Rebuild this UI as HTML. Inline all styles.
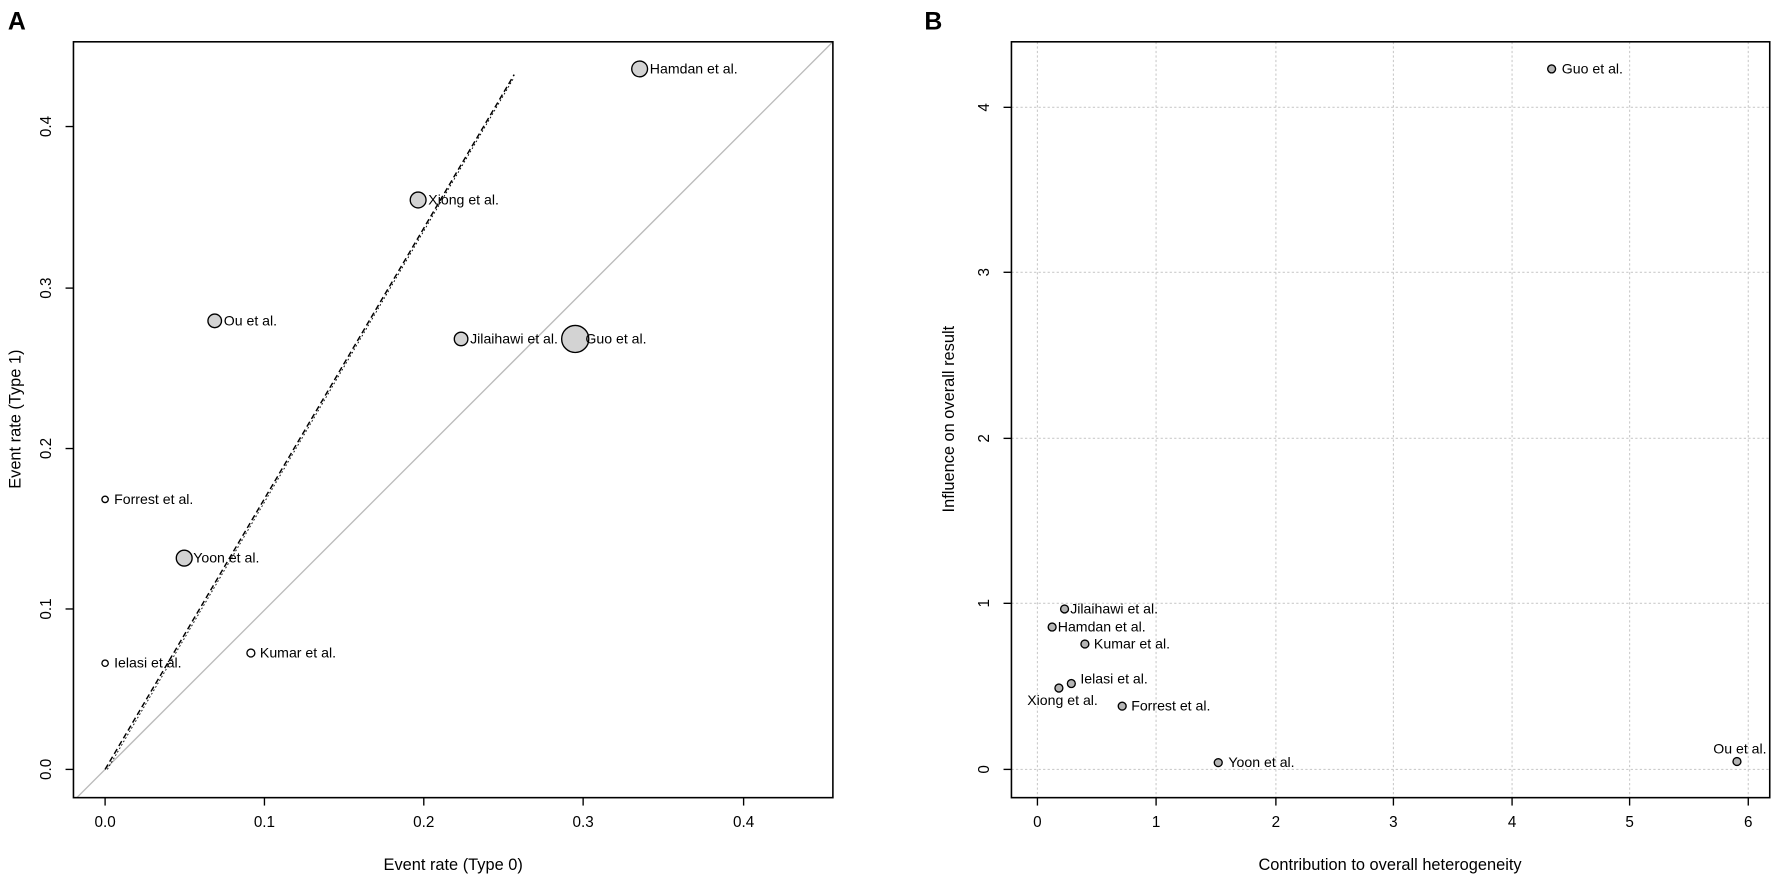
<!DOCTYPE html>
<html><head><meta charset="utf-8"><style>
html,body{margin:0;padding:0;background:#fff}
svg{display:block;font-family:"Liberation Sans",Arial,sans-serif}
</style></head><body>
<svg width="1772" height="879" viewBox="0 0 1568 778" preserveAspectRatio="none" xmlns="http://www.w3.org/2000/svg">
<rect width="1568" height="778" fill="#fff"/>
<text x="7" y="26" font-size="22" font-weight="bold">A</text>
<text x="818" y="26" font-size="22" font-weight="bold">B</text>

<!-- Panel A -->
<defs><clipPath id="ca"><rect x="65" y="37" width="672" height="669"/></clipPath></defs>
<line x1="65" y1="709" x2="737" y2="37" stroke="#bbb" stroke-width="1.2" clip-path="url(#ca)"/>
<line x1="93" y1="681" x2="455" y2="66" stroke="#000" stroke-width="1.3" stroke-dasharray="5,3"/>
<line x1="95" y1="681" x2="454" y2="70" stroke="#000" stroke-width="0.8" stroke-dasharray="1.5,2"/>
<rect x="65" y="37" width="672" height="669" fill="none" stroke="#000" stroke-width="1.4"/>
<g stroke="#000" stroke-width="1.2">
<line x1="93" y1="706" x2="93" y2="713"/><line x1="234" y1="706" x2="234" y2="713"/><line x1="375" y1="706" x2="375" y2="713"/><line x1="516" y1="706" x2="516" y2="713"/><line x1="658" y1="706" x2="658" y2="713"/>
<line x1="58" y1="681" x2="65" y2="681"/><line x1="58" y1="539" x2="65" y2="539"/><line x1="58" y1="397" x2="65" y2="397"/><line x1="58" y1="255" x2="65" y2="255"/><line x1="58" y1="112" x2="65" y2="112"/>
</g>
<g font-size="13.5" text-anchor="middle">
<text x="93" y="732">0.0</text><text x="234" y="732">0.1</text><text x="375" y="732">0.2</text><text x="516" y="732">0.3</text><text x="658" y="732">0.4</text>
<text transform="translate(45,681) rotate(-90)">0.0</text>
<text transform="translate(45,539) rotate(-90)">0.1</text>
<text transform="translate(45,397) rotate(-90)">0.2</text>
<text transform="translate(45,255) rotate(-90)">0.3</text>
<text transform="translate(45,112) rotate(-90)">0.4</text>
<text x="401" y="770" font-size="14.5">Event rate (Type 0)</text>
<text transform="translate(18,371) rotate(-90)" font-size="14.5">Event rate (Type 1)</text>
</g>
<g fill="#d3d3d3" stroke="#000" stroke-width="1.2">
<circle cx="566" cy="61" r="7"/><circle cx="370" cy="177" r="7"/><circle cx="190" cy="284" r="6"/>
<circle cx="408" cy="300" r="6"/><circle cx="509" cy="300" r="12"/><circle cx="163" cy="494" r="7"/>
<circle cx="93" cy="442" r="2.8" fill="#fff"/><circle cx="93" cy="587" r="2.8" fill="#fff"/><circle cx="222" cy="578" r="3.5" fill="#fff"/>
</g>
<g font-size="12.5">
<text x="575" y="65">Hamdan et al.</text><text x="379" y="181">Xiong et al.</text><text x="198" y="288">Ou et al.</text>
<text x="416" y="304">Jilaihawi et al.</text><text x="518" y="304">Guo et al.</text><text x="101" y="446">Forrest et al.</text>
<text x="171" y="498">Yoon et al.</text><text x="101" y="591">Ielasi et al.</text><text x="230" y="582">Kumar et al.</text>
</g>

<!-- Panel B -->
<g stroke="#ccc" stroke-width="1" stroke-dasharray="2,2">
<line x1="918" y1="37" x2="918" y2="706"/><line x1="1023" y1="37" x2="1023" y2="706"/><line x1="1129" y1="37" x2="1129" y2="706"/><line x1="1233" y1="37" x2="1233" y2="706"/><line x1="1338" y1="37" x2="1338" y2="706"/><line x1="1442" y1="37" x2="1442" y2="706"/><line x1="1547" y1="37" x2="1547" y2="706"/>
<line x1="895" y1="681" x2="1567" y2="681"/><line x1="895" y1="534" x2="1567" y2="534"/><line x1="895" y1="388" x2="1567" y2="388"/><line x1="895" y1="241" x2="1567" y2="241"/><line x1="895" y1="95" x2="1567" y2="95"/>
</g>
<rect x="895" y="37" width="671" height="669" fill="none" stroke="#000" stroke-width="1.4"/>
<g stroke="#000" stroke-width="1.2">
<line x1="918" y1="706" x2="918" y2="713"/><line x1="1023" y1="706" x2="1023" y2="713"/><line x1="1129" y1="706" x2="1129" y2="713"/><line x1="1233" y1="706" x2="1233" y2="713"/><line x1="1338" y1="706" x2="1338" y2="713"/><line x1="1442" y1="706" x2="1442" y2="713"/><line x1="1547" y1="706" x2="1547" y2="713"/>
<line x1="888" y1="681" x2="895" y2="681"/><line x1="888" y1="534" x2="895" y2="534"/><line x1="888" y1="388" x2="895" y2="388"/><line x1="888" y1="241" x2="895" y2="241"/><line x1="888" y1="95" x2="895" y2="95"/>
</g>
<g font-size="13.5" text-anchor="middle">
<text x="918" y="732">0</text><text x="1023" y="732">1</text><text x="1129" y="732">2</text><text x="1233" y="732">3</text><text x="1338" y="732">4</text><text x="1442" y="732">5</text><text x="1547" y="732">6</text>
<text transform="translate(875,681) rotate(-90)">0</text>
<text transform="translate(875,534) rotate(-90)">1</text>
<text transform="translate(875,388) rotate(-90)">2</text>
<text transform="translate(875,241) rotate(-90)">3</text>
<text transform="translate(875,95) rotate(-90)">4</text>
<text x="1230" y="770" font-size="14.5">Contribution to overall heterogeneity</text>
<text transform="translate(844,371) rotate(-90)" font-size="14.5">Influence on overall result</text>
</g>
<g fill="#b5b5b5" stroke="#000" stroke-width="1.2">
<circle cx="1373" cy="61" r="3.5"/><circle cx="942" cy="539" r="3.5"/><circle cx="931" cy="555" r="3.5"/>
<circle cx="960" cy="570" r="3.5"/><circle cx="948" cy="605" r="3.5"/><circle cx="937" cy="609" r="3.5"/>
<circle cx="993" cy="625" r="3.5"/><circle cx="1078" cy="675" r="3.5"/><circle cx="1537" cy="674" r="3.5"/>
</g>
<g font-size="12.5">
<text x="1382" y="65">Guo et al.</text><text x="947" y="543">Jilaihawi et al.</text><text x="936" y="559">Hamdan et al.</text>
<text x="968" y="574">Kumar et al.</text><text x="956" y="605">Ielasi et al.</text><text x="909" y="624">Xiong et al.</text>
<text x="1001" y="629">Forrest et al.</text><text x="1087" y="679">Yoon et al.</text><text x="1516" y="667">Ou et al.</text>
</g>
</svg>
</body></html>
